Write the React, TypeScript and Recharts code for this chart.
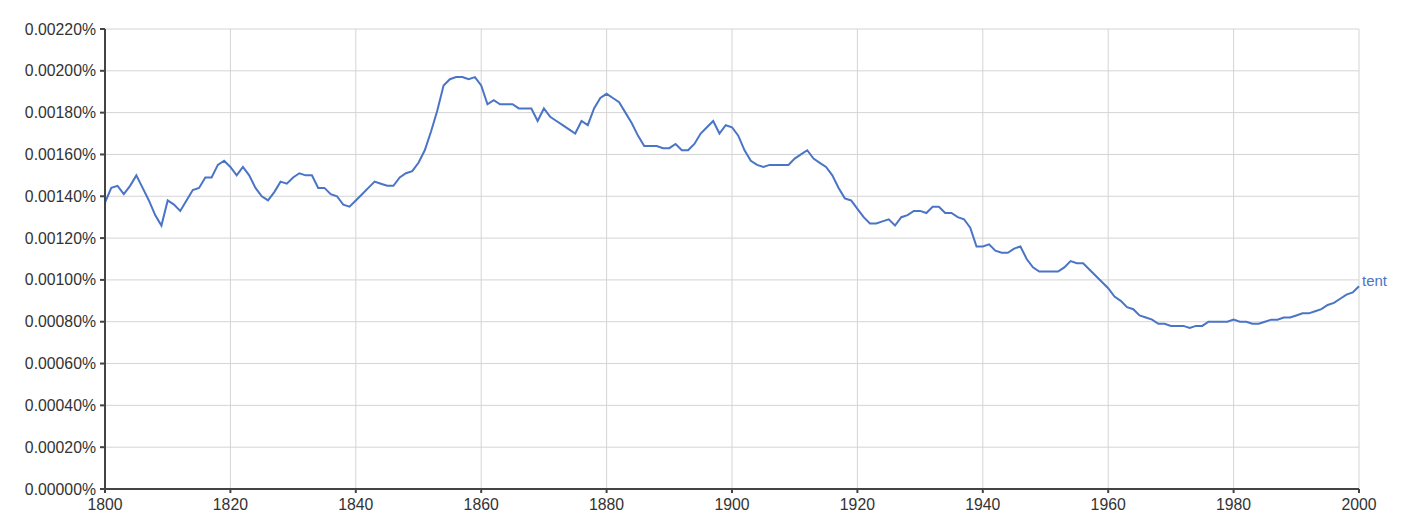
import React from 'react';
import { LineChart, Line, XAxis, YAxis, CartesianGrid } from 'recharts';

const years: number[] = Array.from({ length: 201 }, (_, i) => 1800 + i);

// share of "tent" in the corpus, in percent, one value per year 1800–2000
const tentValues: number[] = [
  0.00137, 0.00144, 0.00145, 0.00141, 0.00145, 0.0015, 0.00144, 0.00138, 0.00131, 0.00126,
  0.00138, 0.00136, 0.00133, 0.00138, 0.00143, 0.00144, 0.00149, 0.00149, 0.00155, 0.00157,
  0.00154, 0.0015, 0.00154, 0.0015, 0.00144, 0.0014, 0.00138, 0.00142, 0.00147, 0.00146,
  0.00149, 0.00151, 0.0015, 0.0015, 0.00144, 0.00144, 0.00141, 0.0014, 0.00136, 0.00135,
  0.00138, 0.00141, 0.00144, 0.00147, 0.00146, 0.00145, 0.00145, 0.00149, 0.00151, 0.00152,
  0.00156, 0.00162, 0.00171, 0.00181, 0.00193, 0.00196, 0.00197, 0.00197, 0.00196, 0.00197,
  0.00193, 0.00184, 0.00186, 0.00184, 0.00184, 0.00184, 0.00182, 0.00182, 0.00182, 0.00176,
  0.00182, 0.00178, 0.00176, 0.00174, 0.00172, 0.0017, 0.00176, 0.00174, 0.00182, 0.00187,
  0.00189, 0.00187, 0.00185, 0.0018, 0.00175, 0.00169, 0.00164, 0.00164, 0.00164, 0.00163,
  0.00163, 0.00165, 0.00162, 0.00162, 0.00165, 0.0017, 0.00173, 0.00176, 0.0017, 0.00174,
  0.00173, 0.00169, 0.00162, 0.00157, 0.00155, 0.00154, 0.00155, 0.00155, 0.00155, 0.00155,
  0.00158, 0.0016, 0.00162, 0.00158, 0.00156, 0.00154, 0.0015, 0.00144, 0.00139, 0.00138,
  0.00134, 0.0013, 0.00127, 0.00127, 0.00128, 0.00129, 0.00126, 0.0013, 0.00131, 0.00133,
  0.00133, 0.00132, 0.00135, 0.00135, 0.00132, 0.00132, 0.0013, 0.00129, 0.00125, 0.00116,
  0.00116, 0.00117, 0.00114, 0.00113, 0.00113, 0.00115, 0.00116, 0.0011, 0.00106, 0.00104,
  0.00104, 0.00104, 0.00104, 0.00106, 0.00109, 0.00108, 0.00108, 0.00105, 0.00102, 0.00099,
  0.00096, 0.00092, 0.0009, 0.00087, 0.00086, 0.00083, 0.00082, 0.00081, 0.00079, 0.00079,
  0.00078, 0.00078, 0.00078, 0.00077, 0.00078, 0.00078, 0.0008, 0.0008, 0.0008, 0.0008,
  0.00081, 0.0008, 0.0008, 0.00079, 0.00079, 0.0008, 0.00081, 0.00081, 0.00082, 0.00082,
  0.00083, 0.00084, 0.00084, 0.00085, 0.00086, 0.00088, 0.00089, 0.00091, 0.00093, 0.00094,
  0.00097,
];

const xTicks: number[] = [1800, 1820, 1840, 1860, 1880, 1900, 1920, 1940, 1960, 1980, 2000];
const yTicks: number[] = [
  0, 0.0002, 0.0004, 0.0006, 0.0008, 0.001, 0.0012, 0.0014, 0.0016, 0.0018, 0.002, 0.0022,
];
const seriesName = 'tent';

const data = years.map((year, i) => ({ year, tent: tentValues[i] }));

const FONT = 'Arial, "Liberation Sans", sans-serif';
const LINE_COLOR = '#4a74c6';
const TICK_SIZE = 15.8;

const XTick = (props: any) => {
  const { x, y, payload } = props;
  return (
    <text x={x} y={y + 15} textAnchor="middle" fill="#333" fontSize={TICK_SIZE} fontFamily={FONT}>
      {payload.value}
    </text>
  );
};

const YTick = (props: any) => {
  const { x, y, payload } = props;
  return (
    <text x={x - 2} y={y + 5.5} textAnchor="end" fill="#333" fontSize={TICK_SIZE} fontFamily={FONT}>
      {`${Number(payload.value).toFixed(5)}%`}
    </text>
  );
};

const EndLabel = (props: any) => {
  const { x, y, index } = props;
  if (index !== data.length - 1) return null;
  return (
    <text x={x + 3} y={y} fill={LINE_COLOR} fontSize={15} fontFamily={FONT}>
      {seriesName}
    </text>
  );
};

export default function App() {
  return (
    <LineChart width={1400} height={510} data={data} margin={{ top: 21, right: 49, bottom: 0, left: 0 }}>
      <CartesianGrid stroke="#d4d4d4" strokeWidth={1} />
      <XAxis
        dataKey="year"
        type="number"
        domain={[1800, 2000]}
        ticks={xTicks}
        tick={<XTick />}
        tickSize={4}
        height={29}
        axisLine={{ stroke: '#444', strokeWidth: 2 }}
        tickLine={{ stroke: '#444', strokeWidth: 2 }}
        interval={0}
      />
      <YAxis
        type="number"
        domain={[0, 0.0022]}
        ticks={yTicks}
        width={97}
        tick={<YTick />}
        tickSize={5}
        axisLine={{ stroke: '#444', strokeWidth: 2 }}
        tickLine={{ stroke: '#444', strokeWidth: 2 }}
        interval={0}
      />
      <Line
        type="linear"
        dataKey="tent"
        stroke={LINE_COLOR}
        strokeWidth={2}
        dot={false}
        activeDot={false}
        isAnimationActive={false}
        label={<EndLabel />}
      />
    </LineChart>
  );
}
